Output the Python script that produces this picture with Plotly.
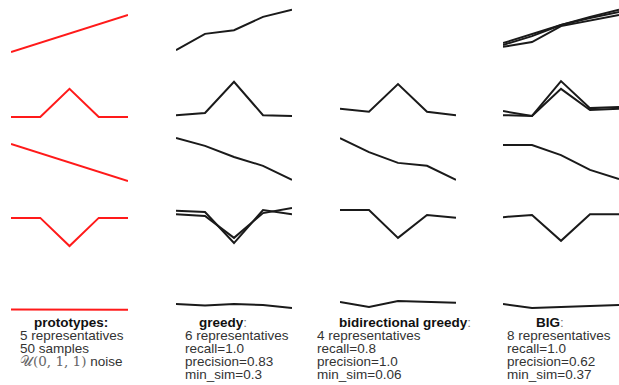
import plotly.graph_objects as go

W, H = 619, 385

# time steps shared by every small panel
t = [0, 1, 2, 3, 4]

# prototypes (column 1, red)
proto_rise = [0, 0.25, 0.5, 0.75, 1.0]
proto_peak = [0, 0, 0.76, 0, 0]
proto_fall = [1.0, 0.75, 0.5, 0.25, 0]
proto_dip = [0.76, 0.76, 0, 0.76, 0.76]
proto_flat = [0.5, 0.5, 0.5, 0.5, 0.49]

# greedy representatives (column 2)
greedy_rise = [0.05, 0.49, 0.59, 0.95, 1.14]
greedy_peak = [0.05, 0.11, 0.95, 0.05, 0.03]
greedy_fall = [1.16, 0.95, 0.65, 0.41, 0.03]
greedy_dip_a = [0.95, 0.92, 0.08, 0.97, 0.86]
greedy_dip_b = [0.86, 0.81, 0.22, 0.89, 1.03]
greedy_flat = [0.65, 0.61, 0.65, 0.62, 0.54]

# bidirectional greedy representatives (column 3)
bidir_peak = [0.22, 0.14, 0.89, 0.14, 0.05]
bidir_fall = [1.16, 0.78, 0.49, 0.41, 0.03]
bidir_dip = [0.97, 0.97, 0.22, 0.84, 0.76]
bidir_flat = [0.70, 0.57, 0.73, 0.70, 0.68]

# BIG representatives (column 4)
big_rise_a = [0.24, 0.49, 0.73, 0.95, 1.14]
big_rise_b = [0.14, 0.27, 0.70, 0.86, 1.00]
big_rise_c = [0.19, 0.43, 0.73, 0.92, 1.08]
big_peak_a = [0.16, 0.03, 0.97, 0.24, 0.27]
big_peak_b = [0.05, 0.03, 0.76, 0.19, 0.22]
big_fall = [0.97, 0.97, 0.70, 0.30, 0.05]
big_dip = [0.78, 0.84, 0.14, 0.86, 0.86]
big_flat = [0.65, 0.54, 0.57, 0.59, 0.62]

panels = {
    (0, 0): [proto_rise], (1, 0): [proto_peak], (2, 0): [proto_fall],
    (3, 0): [proto_dip], (4, 0): [proto_flat],
    (0, 1): [greedy_rise], (1, 1): [greedy_peak], (2, 1): [greedy_fall],
    (3, 1): [greedy_dip_a, greedy_dip_b], (4, 1): [greedy_flat],
    (1, 2): [bidir_peak], (2, 2): [bidir_fall], (3, 2): [bidir_dip],
    (4, 2): [bidir_flat],
    (0, 3): [big_rise_a, big_rise_b, big_rise_c],
    (1, 3): [big_peak_a, big_peak_b], (2, 3): [big_fall], (3, 3): [big_dip],
    (4, 3): [big_flat],
}

# headers and captions
headers = ["<b>prototypes:</b>",
           "<b>greedy</b><span style='color:#777'>:</span>",
           "<b>bidirectional greedy</b><span style='color:#777'>:</span>",
           "<b>BIG</b><span style='color:#777'>:</span>"]
captions = [
    ["5 representatives", "50 samples",
     "<span style='font-family:DejaVu Serif;color:#666'>𝒰(0, 1, 1)</span> noise"],
    ["6 representatives", "recall=1.0", "precision=0.83", "min_sim=0.3"],
    ["4 representatives", "recall=0.8", "precision=1.0", "min_sim=0.06"],
    ["8 representatives", "recall=1.0", "precision=0.62", "min_sim=0.37"],
]

# layout geometry (pixels)
col_x = [(11, 128), (176, 292), (340, 456), (503, 619)]
row_base = [52, 117, 181, 246, 328]
S = 37.0
YR = (-0.3, 1.3)
header_cx = [71, 223, 405, 550]
caption_x = [18, 183, 315, 505]
header_y = 322
line_y = [335, 348, 361, 374]

fig = go.Figure()
layout = dict(width=W, height=H, margin=dict(l=0, r=0, t=0, b=0),
              paper_bgcolor="white", plot_bgcolor="rgba(0,0,0,0)",
              showlegend=False)

for r in range(5):
    for c in range(4):
        k = r * 4 + c + 1
        x0, x1 = col_x[c]
        b = row_base[r]
        top = b - YR[1] * S
        bot = b - YR[0] * S
        layout["xaxis%d" % k] = dict(domain=[x0 / W, min(x1 / W, 1)],
                                     range=[0, 4], visible=False,
                                     anchor="y%d" % k, fixedrange=True)
        layout["yaxis%d" % k] = dict(domain=[1 - bot / H, 1 - top / H],
                                     range=list(YR), visible=False,
                                     anchor="x%d" % k, fixedrange=True)
        for series in panels.get((r, c), []):
            fig.add_trace(go.Scatter(
                x=t, y=series, mode="lines",
                line=dict(color="#ff1a1a" if c == 0 else "#1a1a1a", width=2),
                xaxis="x%d" % k, yaxis="y%d" % k, hoverinfo="skip"))

ann = []
for c in range(4):
    ann.append(dict(text=headers[c], x=header_cx[c] / W, y=1 - header_y / H,
                    xref="paper", yref="paper", xanchor="center",
                    yanchor="middle", showarrow=False,
                    font=dict(family="Liberation Sans", size=13.5, color="#111")))
    for i, line in enumerate(captions[c]):
        ann.append(dict(text=line, x=caption_x[c] / W, y=1 - line_y[i] / H,
                        xref="paper", yref="paper", xanchor="left",
                        yanchor="middle", showarrow=False,
                        font=dict(family="Liberation Sans", size=13.5,
                                  color="#333")))
layout["annotations"] = ann
fig.update_layout(**layout)
fig.write_html("out.html", config={"displayModeBar": False},
               post_script="document.body.style.margin='0';"
                           "document.body.style.overflow='hidden';")
